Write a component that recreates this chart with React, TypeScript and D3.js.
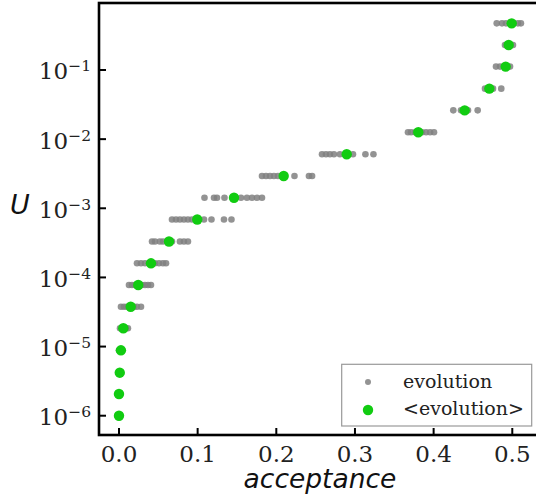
import React from "react";
import * as d3 from "d3";

const levelU = [
  1.0e-6, 2.06e-6, 4.19e-6, 8.83e-6, 1.84e-5, 3.77e-5, 7.76e-5, 1.6e-4, 3.31e-4,
  6.88e-4, 1.42e-3, 2.93e-3, 6.04e-3, 1.26e-2, 2.61e-2, 5.37e-2, 0.112, 0.23, 0.473,
];

const meanAcceptance = [
  0.0, 0.0, 0.001, 0.0025, 0.0055, 0.0149, 0.0245, 0.0407, 0.0636, 0.0995, 0.1462,
  0.2094, 0.2895, 0.3805, 0.4395, 0.4708, 0.4916, 0.4954, 0.4992,
];

const evolutionAcceptance = [
  [0.0, 0.0],
  [0.0, 0.0],
  [0.0, 0.001, 0.002],
  [0.0, 0.002, 0.004],
  [0.0013, 0.0038, 0.0089, 0.0114],
  [0.0025, 0.0064, 0.0102, 0.0191, 0.0229, 0.028],
  [0.0127, 0.0165, 0.0203, 0.0292, 0.0331, 0.0369, 0.0407],
  [0.0229, 0.028, 0.0331, 0.0381, 0.0458, 0.0509, 0.0559, 0.0598],
  [0.042, 0.0458, 0.052, 0.056, 0.061, 0.0674, 0.0775, 0.0826, 0.0877],
  [0.0674, 0.0725, 0.0775, 0.0826, 0.0877, 0.0928, 0.1081, 0.1176, 0.1335, 0.143],
  [0.1087, 0.1208, 0.1246, 0.1341, 0.1551, 0.1627, 0.1691, 0.1754, 0.1818],
  [0.1818, 0.1869, 0.192, 0.197, 0.2021, 0.2231, 0.2415, 0.2455],
  [0.2581, 0.2632, 0.2682, 0.2733, 0.2809, 0.2975, 0.3133, 0.3235],
  [0.3674, 0.3713, 0.3764, 0.3853, 0.3904, 0.3955, 0.4005],
  [0.425, 0.4348, 0.4437, 0.456],
  [0.4653, 0.4755, 0.486],
  [0.4793, 0.4844, 0.492, 0.4971],
  [0.4907, 0.4954, 0.5009],
  [0.4802, 0.4869, 0.492, 0.5021, 0.5072, 0.511],
];

const xTicks = [0.0, 0.1, 0.2, 0.3, 0.4, 0.5];
const yTickExponents = [-6, -5, -4, -3, -2, -1];
const legendLabels = ["evolution", "<evolution>"];

const W = 536;
const H = 497;
const left = 99;
const right = 541;
const top = 3;
const bottom = 435;

const GREEN = "#11cc11";
const GRAY = "#808080";

export default function App() {
  const x = d3.scaleLinear().domain([-0.0254, 0.5365]).range([left, right]);
  const y = d3
    .scaleLog()
    .domain([Math.pow(10, -6.279), Math.pow(10, -0.031)])
    .range([bottom, top]);

  const grayPts: { a: number; u: number }[] = [];
  evolutionAcceptance.forEach((row, i) =>
    row.forEach((a) => grayPts.push({ a, u: levelU[i] }))
  );

  return (
    <svg
      width={W}
      height={H}
      style={{ position: "absolute", left: 0, top: 0, background: "#fff" }}
    >
      <defs>
        <clipPath id="plot">
          <rect x={left} y={top} width={right - left} height={bottom - top} />
        </clipPath>
      </defs>
      <g clipPath="url(#plot)">
        {grayPts.map((p, i) => (
          <circle key={"g" + i} cx={x(p.a)} cy={y(p.u)} r={3.3} fill={GRAY} fillOpacity={0.85} />
        ))}
        {meanAcceptance.map((a, i) => (
          <circle key={"m" + i} cx={x(a)} cy={y(levelU[i])} r={5.2} fill={GREEN} />
        ))}
      </g>

      {/* spines */}
      <rect
        x={left}
        y={top}
        width={right - left}
        height={bottom - top}
        fill="none"
        stroke="#000"
        strokeWidth={2.6}
      />

      {/* x ticks */}
      {xTicks.map((t) => (
        <g key={"xt" + t}>
          <line x1={x(t)} x2={x(t)} y1={bottom} y2={bottom - 7} stroke="#000" strokeWidth={2} />
          <text
            x={x(t)}
            y={461.5}
            textAnchor="middle"
            fontFamily="DejaVu Serif"
            fontSize={23}
            fill="#222"
          >
            {t.toFixed(1)}
          </text>
        </g>
      ))}

      {/* y ticks */}
      {yTickExponents.map((e) => {
        const yy = y(Math.pow(10, e));
        return (
          <g key={"yt" + e}>
            <line x1={left} x2={left + 7} y1={yy} y2={yy} stroke="#000" strokeWidth={2} />
            <text
              x={91}
              y={yy + 9.5}
              textAnchor="end"
              fontFamily="DejaVu Serif"
              fontSize={23}
              fill="#222"
            >
              10
              <tspan fontSize={15.5} dy={-8}>
                {"\u2212" + Math.abs(e)}
              </tspan>
            </text>
          </g>
        );
      })}

      {/* axis labels */}
      <text
        x={(left + right) / 2}
        y={488}
        textAnchor="middle"
        fontFamily="DejaVu Sans"
        fontStyle="italic"
        fontSize={26.5}
        fill="#111"
      >
        acceptance
      </text>
      <text
        x={20}
        y={214}
        textAnchor="middle"
        fontFamily="DejaVu Sans"
        fontStyle="italic"
        fontSize={27}
        fill="#111"
      >
        U
      </text>

      {/* legend */}
      <rect x={341.7} y={364.3} width={190} height={61.7} fill="#fff" stroke="#999" strokeWidth={1.2} />
      <circle cx={368} cy={382} r={3} fill={GRAY} fillOpacity={0.85} />
      <circle cx={368} cy={410} r={5.2} fill={GREEN} />
      <text x={403} y={387.5} fontFamily="DejaVu Serif" fontSize={19} fill="#222">
        {legendLabels[0]}
      </text>
      <text x={403} y={414.5} fontFamily="DejaVu Serif" fontSize={19} fill="#222">
        {legendLabels[1]}
      </text>
    </svg>
  );
}
